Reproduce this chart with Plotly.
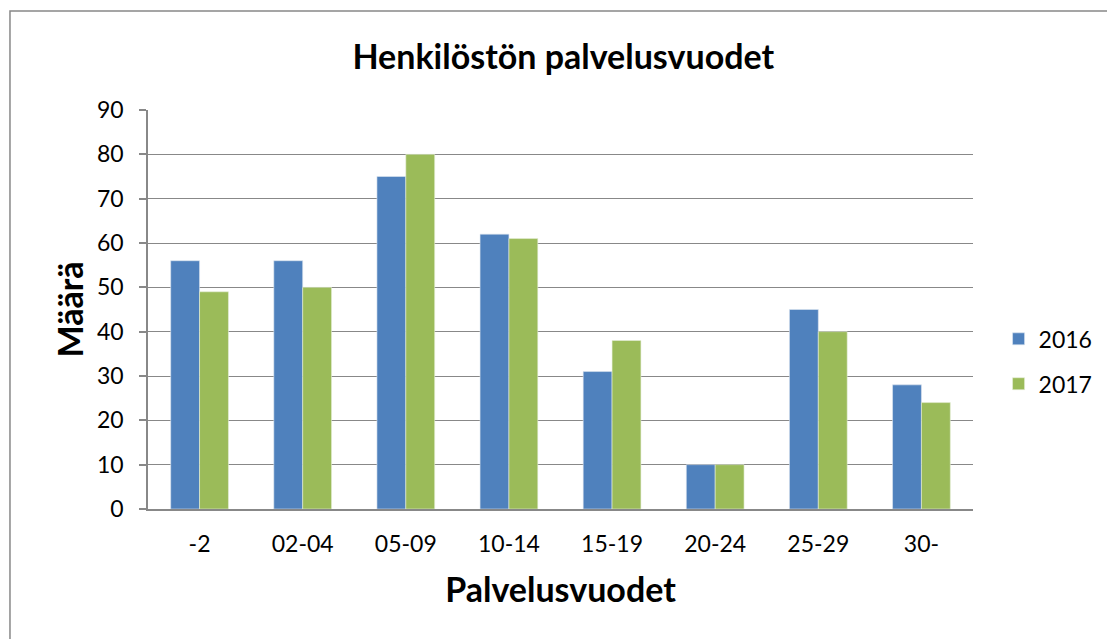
import plotly.graph_objects as go

categories = ["-2", "02-04", "05-09", "10-14", "15-19", "20-24", "25-29", "30-"]
values_2016 = [56, 56, 75, 62, 31, 10, 45, 28]
values_2017 = [49, 50, 80, 61, 38, 10, 40, 24]
y_ticks = [0, 10, 20, 30, 40, 50, 60, 70, 80, 90]

FONT = "Lato, Carlito, Calibri, sans-serif"

fig = go.Figure()
fig.add_trace(go.Bar(x=categories, y=values_2016, name="2016", legendgroup="a",
                     marker=dict(color="#4F81BD", line=dict(color="#DDE6F0", width=0.6))))
fig.add_trace(go.Bar(x=categories, y=values_2017, name="2017", legendgroup="b",
                     marker=dict(color="#9BBB59", line=dict(color="#E6EEDA", width=0.6))))

fig.update_layout(
    width=1115, height=639,
    margin=dict(l=140, r=150, t=102, b=138),
    paper_bgcolor="white", plot_bgcolor="white",
    font=dict(family=FONT, size=23, color="black"),
    barmode="group", bargap=0.44, bargroupgap=0,
    title=dict(text="<b>Henkilöstön palvelusvuodet</b>", x=0.498, xanchor="center",
               y=0.923, yanchor="middle", font=dict(size=34, family=FONT)),
    showlegend=True,
    legend=dict(x=1.031, y=0.37, xanchor="left", yanchor="middle",
                font=dict(size=23, family=FONT), tracegroupgap=12,
                bgcolor="rgba(0,0,0,0)"),
    xaxis=dict(
        showline=True, linecolor="#888888", linewidth=1.5, ticks="",
        ticklabelstandoff=14, tickfont=dict(size=23),
        title=dict(text="<b>Palvelusvuodet</b>", font=dict(size=34), standoff=22),
    ),
    yaxis=dict(
        range=[0, 90], tickvals=y_ticks, showgrid=True, gridcolor="#888888", gridwidth=1,
        showline=True, linecolor="#888888", linewidth=1.5, ticks="outside", ticklen=7,
        tickcolor="#888888", tickwidth=1.5, tickfont=dict(size=23), zeroline=False,
        ticklabelstandoff=11,
        title=dict(text="<b>Määrä</b>", font=dict(size=34), standoff=3),
    ),
    shapes=[dict(type="rect", xref="paper", yref="paper",
                 x0=-0.1673, x1=1.3, y0=-0.5, y1=1.248,
                 line=dict(color="#888888", width=1.5), fillcolor="rgba(0,0,0,0)", layer="below")],
)

fig.write_html("out.html")
